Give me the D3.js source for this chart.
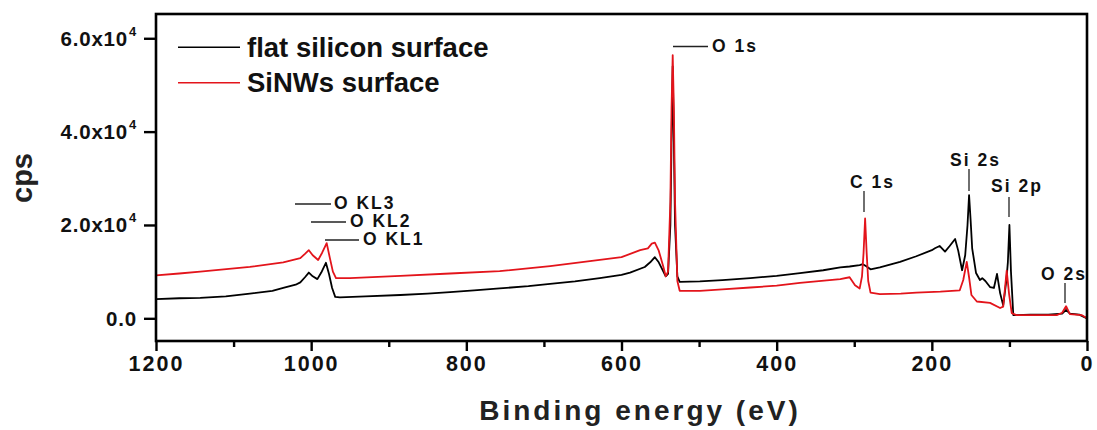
<!DOCTYPE html>
<html>
<head>
<meta charset="utf-8">
<script src="https://cdn.jsdelivr.net/npm/d3@7"></script>
<style>
  html, body { margin: 0; padding: 0; background: #ffffff; }
  svg { display: block; font-family: "Liberation Sans", Arial, sans-serif; font-weight: bold; }
</style>
</head>
<body>
<svg id="chart" width="1097" height="430"></svg>
<script>
// ---------- data (binding energy in eV, counts per second) ----------
const flatEnergy = [1200,1170,1143,1110,1079,1050,1036,1020,1014,1008,1003,998,992,987,981,977,973,969,963,930,885,850,821,790,757,720,692,660,628,600,589,570,563,557,552,546,543,540,537,535.5,534,532.5,531,528,525,499,470,434,400,370,340,318,306,293,289,285,279,267,241,220,200,196,190,183,177,170,166,161,157,154,152,150,148,143,138,135,131,125,120,116,112,108,104,102,100,98,95,91,73,50,32,27,22,10,0];
const flatCps    = [4100,4300,4400,4700,5300,5900,6500,7200,7700,8800,9800,9000,8400,9800,11900,9500,6500,4600,4500,4700,5000,5300,5600,6000,6400,6900,7400,7900,8600,9300,9800,11000,12000,13100,12000,10000,9000,9500,20000,38000,54000,38000,20000,9000,7800,7900,8200,8600,9100,9700,10300,10900,11100,11400,11600,11200,10500,10900,12100,13300,14600,15000,15500,14300,15500,17000,14500,10300,13500,20000,26400,21000,15000,9700,8200,8600,8000,6700,6500,9500,5400,2800,8000,12000,20000,10000,700,700,800,800,1000,1800,1000,800,0];

const nwEnergy = [1200,1170,1143,1079,1036,1014,1008,1003,998,991,986,980,976,972,968,950,885,821,757,692,628,600,576,566,561,557,552,546,543,540,537,535.5,534,532.5,531,528,525,499,470,434,400,370,318,306,299,293,290,288,286,284,282,279,267,240,220,189,164,159.5,155,152,149,142,125,112,108,103.5,100.5,97,91,60,39,32,27,22,7,0];
const nwCps    = [9200,9600,10000,11000,12000,12900,13800,14600,13500,12500,14000,16100,13000,10000,8600,8600,9100,9600,10100,11200,12500,13100,14600,15000,16000,16200,14500,11000,9000,10000,25000,45000,56400,45000,25000,8000,5900,5900,6200,6600,7000,7600,8400,8800,7100,6400,9000,14000,21400,14000,8000,5500,5200,5300,5500,5700,6000,8200,12100,8800,5000,3600,3300,2200,2500,10200,5300,1100,700,700,700,1200,2600,900,700,0];

const xTicks = [1200,1000,800,600,400,200,0];
const xMinorTicks = [1100,900,700,500,300,100];
const yTicks = [0,20000,40000,60000];
const yTickMantissa = ["0.0","2.0x10","4.0x10","6.0x10"];
const yTickExp = ["","4","4","4"];

const seriesNames = ["flat silicon surface","SiNWs surface"];
const seriesColors = ["#000000","#e3141b"];

const peakLabels = [
  {text:"O 1s",  kind:"h", tx:712, ty:52,  lx1:673, lx2:708, ly:46.5},
  {text:"O KL3", kind:"h", tx:334, ty:209, lx1:295, lx2:331, ly:204},
  {text:"O KL2", kind:"h", tx:350, ty:227, lx1:311, lx2:346, ly:222},
  {text:"O KL1", kind:"h", tx:363, ty:245, lx1:325, lx2:359, ly:240},
  {text:"C 1s",  kind:"v", tx:850, ty:188, lx:864,  ly1:191, ly2:212},
  {text:"Si 2s", kind:"v", tx:950, ty:166, lx:969,  ly1:169, ly2:191},
  {text:"Si 2p", kind:"v", tx:991, ty:192, lx:1009, ly1:197, ly2:217},
  {text:"O 2s",  kind:"v", tx:1041,ty:280, lx:1065, ly1:283, ly2:303}
];

// ---------- layout ----------
const svg = d3.select("#chart");
const L = 156, R = 1087, T = 14, B = 341;

const x = d3.scaleLinear().domain([1200, 0]).range([L, R]);
const y = d3.scaleLinear().domain([-4860, 65200]).range([B, T]);

// series
const line = d3.line().x(d => x(d[0])).y(d => y(d[1]));
const flat = flatEnergy.map((e,i) => [e, flatCps[i]]);
const nw = nwEnergy.map((e,i) => [e, nwCps[i]]);

const plot = svg.append("g");
plot.append("path").datum(flat).attr("d", line)
  .attr("fill","none").attr("stroke", seriesColors[0]).attr("stroke-width",1.8).attr("stroke-linejoin","round");
plot.append("path").datum(nw).attr("d", line)
  .attr("fill","none").attr("stroke", seriesColors[1]).attr("stroke-width",1.8).attr("stroke-linejoin","round");

// frame
svg.append("rect").attr("x",L).attr("y",T).attr("width",R-L).attr("height",B-T)
  .attr("fill","none").attr("stroke","#000").attr("stroke-width",2.6);

// x axis
const xAxis = d3.axisBottom(x).tickValues(xTicks).tickSize(10).tickPadding(5).tickFormat(d3.format("d"));
const gx = svg.append("g").attr("transform",`translate(0,${B})`).call(xAxis);
gx.select(".domain").remove();
gx.selectAll(".tick line").attr("stroke-width",2.4);
gx.selectAll(".tick text").attr("font-size",21.5).attr("font-weight","bold")
  .attr("font-family","'Liberation Sans', Arial, sans-serif").attr("letter-spacing","2px").attr("fill","#111");
const xMinor = d3.axisBottom(x).tickValues(xMinorTicks).tickSize(6).tickFormat("");
const gxm = svg.append("g").attr("transform",`translate(0,${B})`).call(xMinor);
gxm.select(".domain").remove();
gxm.selectAll(".tick line").attr("stroke-width",2.4);

// y axis
const yAxis = d3.axisLeft(y).tickValues(yTicks).tickSize(12).tickFormat("");
const gy = svg.append("g").attr("transform",`translate(${L},0)`).call(yAxis);
gy.select(".domain").remove();
gy.selectAll(".tick line").attr("stroke-width",2.4);
yTicks.forEach((v,i) => {
  svg.append("text").attr("x", yTickExp[i] ? 128 : 137).attr("y", y(v)+7.5)
    .attr("text-anchor","end").attr("font-size",20.5).attr("letter-spacing","0.8px").attr("fill","#111")
    .text(yTickMantissa[i]);
  if (yTickExp[i]) {
    svg.append("text").attr("x",129).attr("y",y(v)-2.5).attr("font-size",13).attr("fill","#111").text(yTickExp[i]);
  }
});

// axis titles
svg.append("text").attr("transform","translate(32,178) rotate(-90)")
  .attr("text-anchor","middle").attr("font-size",29).attr("fill","#222").text("cps");
svg.append("text").attr("x",640).attr("y",420).attr("text-anchor","middle")
  .attr("font-size",28).attr("letter-spacing","3px").attr("fill","#222").text("Binding energy (eV)");

// legend
[[47.3,56.5],[82.7,91.5]].forEach((p,i) => {
  svg.append("line").attr("x1",178).attr("x2",240).attr("y1",p[0]).attr("y2",p[0])
    .attr("stroke",seriesColors[i]).attr("stroke-width",1.6);
  svg.append("text").attr("x",247).attr("y",p[1]).attr("font-size",27.5).attr("fill","#111").text(seriesNames[i]);
});

// peak annotations
peakLabels.forEach(p => {
  if (p.kind === "h") {
    svg.append("line").attr("x1",p.lx1).attr("x2",p.lx2).attr("y1",p.ly).attr("y2",p.ly)
      .attr("stroke","#222").attr("stroke-width",1.3);
  } else {
    svg.append("line").attr("x1",p.lx).attr("x2",p.lx).attr("y1",p.ly1).attr("y2",p.ly2)
      .attr("stroke","#222").attr("stroke-width",1.3);
  }
  svg.append("text").attr("x",p.tx).attr("y",p.ty).attr("font-size",17.5)
    .attr("letter-spacing","2px").attr("fill","#111").text(p.text);
});
</script>
</body>
</html>
